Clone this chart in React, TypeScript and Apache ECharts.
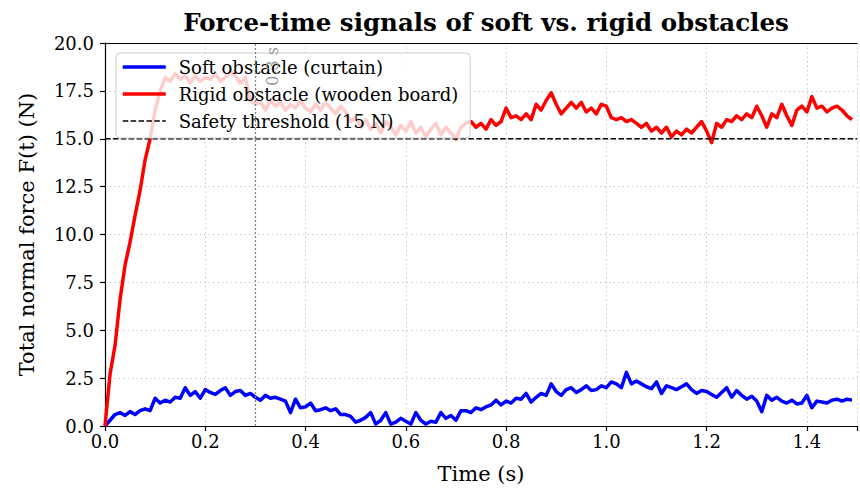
import React, { useEffect, useRef } from 'react';
import * as echarts from 'echarts';

const TITLE = 'Force-time signals of soft vs. rigid obstacles';
const X_NAME = 'Time (s)';
const Y_NAME = 'Total normal force F(t) (N)';
const SERIES_NAMES = ['Soft obstacle (curtain)', 'Rigid obstacle (wooden board)', 'Safety threshold (15 N)'];

const TIME_STEP = 0.01;
const X_RANGE = [0, 1.5];
const Y_RANGE = [0, 20];
const X_INTERVAL = 0.2;
const Y_INTERVAL = 2.5;
const THRESHOLD = 15;
const MARKER_TIME = 0.3;
const MARKER_LABEL = '0.3 s';

const softForce = [
  0.0, 0.3, 0.6, 0.7, 0.55, 0.75, 0.6, 0.8, 0.9, 0.8,
  1.45, 1.2, 1.35, 1.25, 1.5, 1.45, 2.0, 1.6, 1.8, 1.45,
  1.9, 1.75, 1.65, 1.85, 2.0, 1.6, 1.8, 1.85, 1.6, 1.7,
  1.5, 1.35, 1.6, 1.45, 1.5, 1.4, 1.3, 0.7, 1.4, 0.95,
  1.0, 1.2, 0.8, 0.85, 0.95, 0.8, 0.9, 0.6, 0.6, 0.5,
  0.2, 0.3, 0.45, 0.7, 0.1, 0.3, 0.7, 0.1, 0.2, 0.4,
  0.25, 0.1, 0.7, 0.3, 0.1, 0.25, 0.2, 0.7, 0.4, 0.55,
  0.3, 0.8, 0.8, 0.7, 0.95, 0.85, 1.0, 1.1, 1.35, 1.1,
  1.3, 1.2, 1.45, 1.4, 1.7, 1.25, 1.5, 1.7, 1.6, 2.2,
  1.8, 1.6, 1.9, 2.0, 1.75, 1.9, 2.1, 1.85, 1.9, 2.1,
  2.0, 2.3, 2.2, 2.0, 2.8, 2.2, 2.35, 2.2, 2.05, 1.95,
  2.3, 1.7, 2.1, 2.0, 1.9, 2.05, 2.2, 1.9, 1.7, 1.85,
  1.8, 1.65, 1.5, 1.75, 2.0, 1.5, 1.85, 1.6, 1.4, 1.55,
  1.3, 0.75, 1.6, 1.35, 1.5, 1.3, 1.2, 1.35, 1.15, 1.2,
  1.6, 0.95, 1.3, 1.25, 1.2, 1.35, 1.4, 1.3, 1.4, 1.35,
];

const rigidForce = [
  0.0, 2.7, 4.2, 6.6, 8.4, 9.6, 11.0, 12.3, 13.9, 15.0,
  16.5, 17.5, 18.2, 18.0, 18.4, 18.1, 18.3, 17.9, 18.3, 18.0,
  18.2, 18.1, 18.4, 18.0, 18.2, 18.5, 18.3, 17.9, 18.2, 17.0,
  16.8, 16.9, 16.5, 17.0, 16.7, 16.9, 16.5, 16.8, 16.6, 17.0,
  16.6, 16.4, 16.8, 16.5, 16.9, 16.6, 16.3, 16.7, 16.4, 15.9,
  16.1, 15.6, 16.0, 15.5, 15.8, 15.3, 15.9, 15.6, 15.2, 15.7,
  15.4, 15.9, 15.3, 15.6, 15.1, 15.5, 15.8, 15.2, 15.6, 15.3,
  15.0, 15.6, 15.8, 15.9, 15.6, 15.8, 15.5, 16.0, 15.7, 15.9,
  16.6, 16.1, 16.2, 16.0, 16.3, 16.0, 16.8, 16.5, 17.0, 17.4,
  16.8, 16.3, 16.6, 16.9, 16.6, 16.9, 16.4, 16.6, 16.3, 16.8,
  16.7, 16.1, 16.0, 16.1, 15.9, 16.0, 15.8, 15.6, 15.8, 15.4,
  15.6, 15.3, 15.6, 15.1, 15.4, 15.2, 15.5, 15.3, 15.6, 15.9,
  15.4, 14.8, 15.8, 15.6, 16.0, 15.9, 16.2, 16.0, 16.3, 16.1,
  16.7, 16.2, 15.6, 16.3, 16.1, 16.8, 16.2, 15.7, 16.5, 16.7,
  16.4, 17.2, 16.6, 16.7, 16.4, 16.6, 16.7, 16.5, 16.2, 16.0,
];

const SERIES_COLORS = ['#0000ff', '#ff0000', '#000000'];
const FONT = 'DejaVu Serif';

function toPairs(values: number[]) {
  return values.map((v, i) => [Number((i * TIME_STEP).toFixed(2)), v]);
}

export default function App() {
  const ref = useRef<HTMLDivElement>(null);

  useEffect(() => {
    if (!ref.current) return;
    const chart = echarts.init(ref.current, null, { renderer: 'svg' });
    const axisCommon = {
      type: 'value',
      axisLine: { show: true, lineStyle: { color: '#000', width: 1.2 } },
      axisTick: { show: true, length: 5, lineStyle: { color: '#000', width: 1.2 } },
      axisLabel: { color: '#000', fontFamily: FONT, fontSize: 18 },
      splitLine: { show: true, lineStyle: { color: '#c8c8c8', type: [1.5, 3], width: 1 } },
      nameTextStyle: { color: '#000', fontFamily: FONT, fontSize: 21 },
    };
    const legendLine = [
      { color: SERIES_COLORS[0], width: 3.5, type: 'solid' },
      { color: SERIES_COLORS[1], width: 3.5, type: 'solid' },
      { color: SERIES_COLORS[2], width: 1.5, type: [5.5, 2.4] },
    ];
    chart.setOption({
      animation: false,
      backgroundColor: '#ffffff',
      textStyle: { fontFamily: FONT },
      grid: { left: 105, right: -10, top: 43, bottom: 64, containLabel: false },
      graphic: [
        {
          type: 'text',
          x: 486,
          y: 22,
          style: {
            text: TITLE,
            font: `bold 24.5px "${FONT}"`,
            fill: '#000',
            textAlign: 'center',
            textVerticalAlign: 'middle',
          },
        },
      ],
      legend: {
        show: true,
        orient: 'vertical',
        left: 116,
        top: 53,
        padding: [5, 12, 8, 5],
        itemWidth: 43,
        itemHeight: 18,
        itemGap: 9,
        backgroundColor: 'rgba(255,255,255,0.8)',
        borderColor: '#cccccc',
        borderWidth: 1,
        borderRadius: 4,
        itemStyle: { color: 'rgba(0,0,0,0)', borderWidth: 0, opacity: 0 },
        textStyle: { color: '#000', fontFamily: FONT, fontSize: 18, padding: [0, 0, 0, 8] },
        data: SERIES_NAMES.map((name, i) => ({ name, lineStyle: legendLine[i] })),
      },
      xAxis: [
        {
          ...axisCommon,
          min: X_RANGE[0],
          max: X_RANGE[1],
          interval: X_INTERVAL,
          name: X_NAME,
          nameLocation: 'middle',
          nameGap: 37,
          axisLabel: {
            ...axisCommon.axisLabel,
            margin: 6,
            formatter: (v: number) => (v > X_RANGE[1] - 0.05 ? '' : v.toFixed(1)),
          },
        },
        {
          type: 'value',
          position: 'top',
          min: X_RANGE[0],
          max: X_RANGE[1],
          axisLine: { show: true, lineStyle: { color: '#000', width: 1.2 } },
          axisTick: { show: false },
          axisLabel: { show: false },
          splitLine: { show: false },
        },
      ],
      yAxis: {
        ...axisCommon,
        min: Y_RANGE[0],
        max: Y_RANGE[1],
        interval: Y_INTERVAL,
        name: Y_NAME,
        nameLocation: 'middle',
        nameGap: 68,
        axisLabel: {
          ...axisCommon.axisLabel,
          margin: 11,
          formatter: (v: number) => v.toFixed(1),
        },
      },
      series: [
        {
          name: SERIES_NAMES[0],
          type: 'line',
          data: toPairs(softForce),
          symbol: 'none',
          lineStyle: { color: SERIES_COLORS[0], width: 3.5, join: 'round' },
          itemStyle: { color: SERIES_COLORS[0] },
          z: 2,
        },
        {
          name: SERIES_NAMES[1],
          type: 'line',
          data: toPairs(rigidForce),
          symbol: 'none',
          lineStyle: { color: SERIES_COLORS[1], width: 3.5, join: 'round' },
          itemStyle: { color: SERIES_COLORS[1] },
          z: 2,
        },
        {
          name: SERIES_NAMES[2],
          type: 'line',
          data: X_RANGE.map((x) => [x, THRESHOLD]),
          symbol: 'none',
          lineStyle: { color: SERIES_COLORS[2], width: 1.5, type: [5.5, 2.4] },
          itemStyle: { color: SERIES_COLORS[2] },
          z: 3,
          markLine: {
            silent: true,
            symbol: 'none',
            lineStyle: { color: '#808080', type: [2, 2], width: 1.2 },
            label: {
              show: true,
              formatter: MARKER_LABEL,
              position: 'insideEndBottom',
              color: '#999999',
              fontFamily: FONT,
              fontSize: 16,
              distance: [4, 9],
            },
            data: [{ xAxis: MARKER_TIME }],
          },
        },
      ],
    });
    return () => chart.dispose();
  }, []);

  return (
    <div
      ref={ref}
      style={{ position: 'absolute', left: 0, top: 0, width: 860, height: 490 }}
    />
  );
}
